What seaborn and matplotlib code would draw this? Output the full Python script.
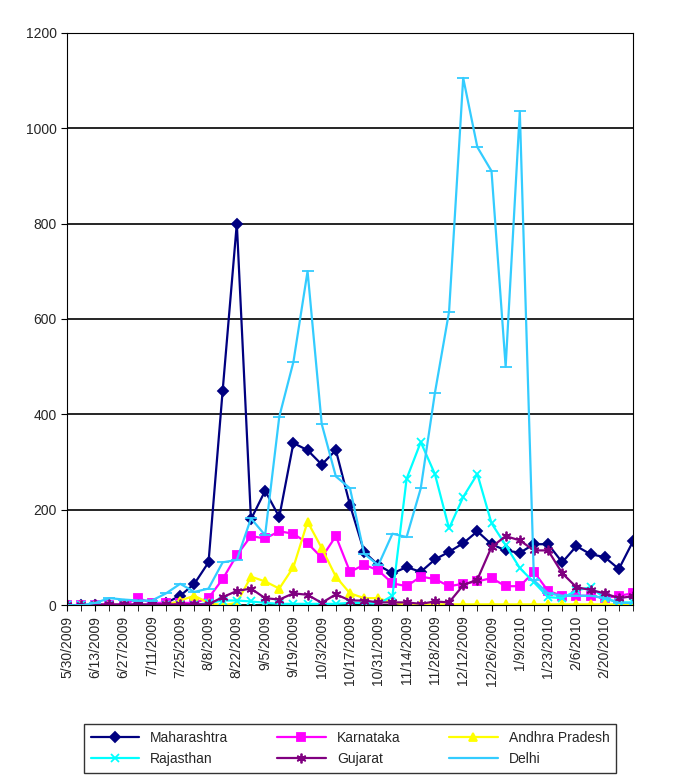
import matplotlib
matplotlib.use("Agg")
import matplotlib.pyplot as plt
import seaborn as sns
import pandas as pd
import datetime as dt

sns.set_style("white")
plt.rcParams['font.family'] = ['Liberation Sans', 'DejaVu Sans']

start = dt.date(2009, 5, 30)
dates = [start + dt.timedelta(weeks=i) for i in range(41)]
date_labels = [f"{d.month}/{d.day}/{d.year}" for d in dates]

maharashtra = [0,0,0,0,0,0,0,5,20,45,90,450,800,180,240,185,340,325,295,325,210,
               112,84,67,80,70,96,112,130,155,128,115,110,128,128,90,124,107,101,76,134]
karnataka = [0,0,0,0,0,15,5,5,5,5,15,55,105,145,140,155,150,130,100,145,70,
             85,73,46,40,60,55,40,45,50,57,40,40,70,30,20,20,20,15,20,25]
andhra = [0,0,0,0,0,0,0,0,10,20,5,0,5,60,50,35,80,175,120,60,25,
          15,15,5,2,2,2,2,2,2,2,2,2,2,2,2,2,2,2,2,2]
rajasthan = [0,0,0,0,0,0,0,0,0,0,5,10,10,8,5,3,3,3,3,3,5,
             5,3,20,265,342,275,161,227,275,172,126,78,48,17,15,31,38,15,6,6]
gujarat = [0,0,2,2,2,2,2,2,2,2,2,17,30,35,15,12,25,22,5,23,10,
           10,6,6,6,3,8,6,42,54,122,145,136,115,115,67,38,32,25,15,19]
delhi = [0,0,5,15,12,10,10,25,45,28,35,90,95,182,147,395,510,700,380,270,245,
         108,84,150,143,245,445,615,1105,960,910,500,1035,52,25,20,20,20,15,5,5]

series = [
    ("Maharashtra", maharashtra, "#000080", "D", 5),
    ("Karnataka", karnataka, "#FF00FF", "s", 6),
    ("Andhra Pradesh", andhra, "#FFFF00", "^", 6),
    ("Rajasthan", rajasthan, "#00FFFF", "x", 6),
    ("Gujarat", gujarat, "#800080", (6, 2, 0), 7),
    ("Delhi", delhi, "#33CCFF", "_", 8),
]

fig = plt.figure(figsize=(6.77, 7.77), dpi=100)
ax = fig.add_axes([0.099, 0.221, 0.836, 0.737])
x = list(range(len(dates)))
for name, vals, col, mk, ms in series:
    df = pd.DataFrame({"x": x, "y": vals})
    sns.lineplot(data=df, x="x", y="y", ax=ax, color=col, marker=mk, markersize=ms,
                 markeredgecolor=col, markeredgewidth=1.3, linewidth=1.6, label=name)

ax.set_ylim(0, 1200)
ax.set_xlim(0, 40)
ax.set_yticks(range(0, 1201, 200))
ax.set_xticks(x[0:39:2])
ax.set_xticklabels(date_labels[0:39:2], rotation=90, fontsize=10)
ax.set_xticks(x, minor=True)
ax.tick_params(axis='y', labelsize=10)
ax.set_xlabel("")
ax.set_ylabel("")
ax.yaxis.grid(True, color="black", linewidth=1.2)
for s in ax.spines.values():
    s.set_color("black")
ax.tick_params(axis='both', which='both', direction='out', length=4, color='black', bottom=True, left=True)

h, l = ax.get_legend_handles_labels()
order = [0, 3, 1, 4, 2, 5]
ax.legend([h[i] for i in order], [l[i] for i in order],
          loc="upper center", bbox_to_anchor=(0.5, -0.195), ncol=3, frameon=True,
          fancybox=False, edgecolor="black", fontsize=10, handlelength=3.5,
          columnspacing=3.5, borderpad=0.5, labelspacing=0.5)
fig.savefig("out.png", dpi=100)
